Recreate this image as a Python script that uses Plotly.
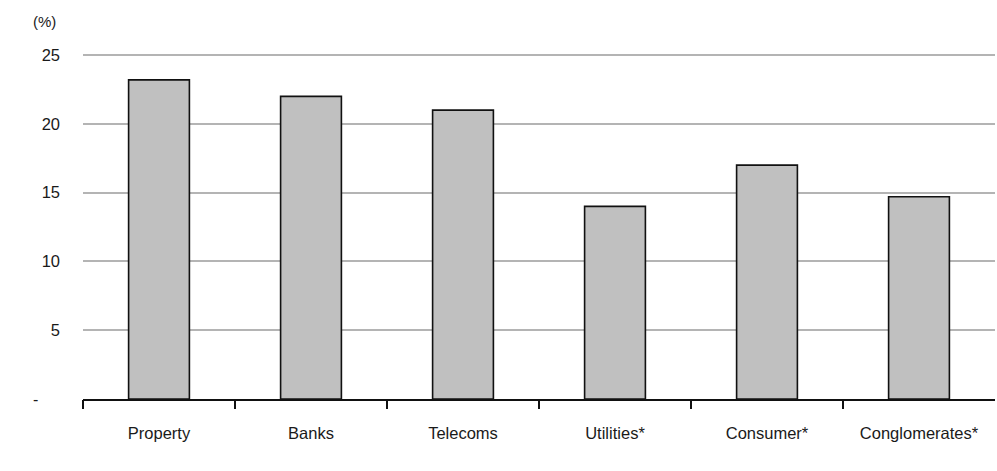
import plotly.graph_objects as go

# Sector values (%)
sectors = ["Property", "Banks", "Telecoms", "Utilities*", "Consumer*", "Conglomerates*"]
values = [23.2, 22.0, 21.0, 14.0, 17.0, 14.7]
y_ticks = [5, 10, 15, 20, 25]

positions = list(range(len(sectors)))
boundaries = [p - 0.5 for p in positions]

FONT = "Liberation Sans, Arial, sans-serif"
TEXT = "#1a1a1a"

fig = go.Figure()
fig.add_trace(go.Bar(
    x=positions,
    y=values,
    width=0.4,
    marker=dict(color="#c0c0c0", line=dict(color="#111111", width=1.6)),
    hoverinfo="x+y",
))

# Invisible trace on the overlay axis carrying the boundary ticks
fig.add_trace(go.Scatter(x=[boundaries[0]], y=[0], xaxis="x2", mode="markers",
                         marker=dict(opacity=0), showlegend=False, hoverinfo="skip"))

fig.update_layout(
    width=997, height=471,
    margin=dict(l=83, r=2, t=53, b=72),
    plot_bgcolor="white", paper_bgcolor="white",
    showlegend=False,
    font=dict(family=FONT, size=16, color=TEXT),
    xaxis=dict(
        range=[-0.5, len(sectors) - 0.5],
        tickvals=positions, ticktext=sectors,
        ticks="", showgrid=False, zeroline=False,
        showline=True, linecolor="#111111", linewidth=1.6,
        ticklabelstandoff=18,
        tickfont=dict(size=16.5),
    ),
    xaxis2=dict(
        overlaying="x", anchor="y",
        range=[-0.5, len(sectors) - 0.5],
        tickvals=boundaries, showticklabels=False,
        ticks="outside", ticklen=9, tickwidth=1.6, tickcolor="#111111",
        showgrid=False, zeroline=False, showline=False,
    ),
    yaxis=dict(
        range=[0, 25.15], tickvals=y_ticks,
        ticks="", showgrid=True, gridcolor="#b4b4b4", gridwidth=1.5,
        zeroline=False, showline=False,
        ticklabelstandoff=22,
        tickfont=dict(size=16.5),
    ),
    annotations=[
        dict(text="(%)", xref="paper", yref="paper", x=-0.042, y=1.09,
             showarrow=False, xanchor="center", yanchor="middle",
             font=dict(size=15, color=TEXT)),
        dict(text="-", xref="paper", yref="y", x=-0.052, y=0,
             showarrow=False, xanchor="center", yanchor="middle",
             font=dict(size=16, color=TEXT)),
    ],
)

fig.write_html("out.html")
